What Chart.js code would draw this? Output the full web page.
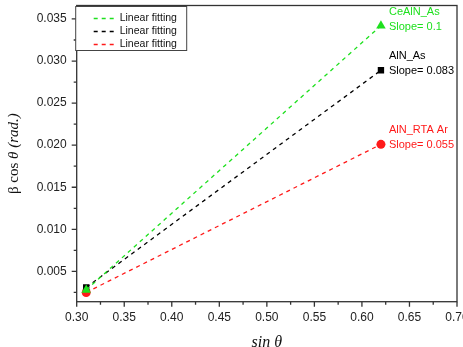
<!DOCTYPE html>
<html>
<head>
<meta charset="utf-8">
<script src="https://cdn.jsdelivr.net/npm/chart.js@4/dist/chart.umd.min.js"></script>
<style>
  html, body { margin: 0; padding: 0; background: #fff; }
</style>
</head>
<body>
<canvas id="chart" width="463" height="347"></canvas>
<script>
// data
const sinTheta = [0.31, 0.62];
const ceAlnAs = [0.0028, 0.0342];
const alnAs = [0.0031, 0.0289];
const alnRtaAr = [0.0025, 0.0201];
const seriesNames = ['CeAlN_As', 'AlN_As', 'AlN_RTA Ar'];
const slopes = ['0.1', '0.083', '0.055'];
const fitLabel = 'Linear fitting';
const xTicks = [0.30, 0.35, 0.40, 0.45, 0.50, 0.55, 0.60, 0.65, 0.70];
const yTicks = [0.005, 0.010, 0.015, 0.020, 0.025, 0.030, 0.035];

const green = '#1ee01e';
const black = '#000000';
const red = '#ff1a1a';
const axisColor = '#333333';

function pts(ys) {
  return sinTheta.map((x, i) => ({ x: x, y: ys[i] }));
}

function series(ys, color, style, radius) {
  return {
    label: fitLabel,
    data: pts(ys),
    showLine: true,
    borderColor: color,
    borderWidth: 1.3,
    borderDash: [4, 4],
    backgroundColor: color,
    pointStyle: style,
    pointRadius: radius,
    pointBorderWidth: 0,
    pointBackgroundColor: color
  };
}

function noPad(s) {
  s.paddingLeft = 0; s.paddingRight = 0; s.paddingTop = 0; s.paddingBottom = 0;
}

// frame, ticks, legend, annotations and axis titles
const extras = {
  id: 'extras',
  afterDatasetsDraw(chart) {
    const ctx = chart.ctx;
    const a = chart.chartArea;
    const xs = chart.scales.x, ys = chart.scales.y;
    ctx.save();
    ctx.strokeStyle = axisColor;
    ctx.lineWidth = 1.3;
    ctx.strokeRect(a.left, a.top, a.right - a.left, a.bottom - a.top);

    ctx.beginPath();
    for (let i = 0; i < xTicks.length; i++) {
      const px = xs.getPixelForValue(xTicks[i]);
      ctx.moveTo(px, a.bottom); ctx.lineTo(px, a.bottom + 5);
      if (i < xTicks.length - 1) {
        const mx = xs.getPixelForValue((xTicks[i] + xTicks[i + 1]) / 2);
        ctx.moveTo(mx, a.bottom); ctx.lineTo(mx, a.bottom + 3);
      }
    }
    for (let i = 0; i < yTicks.length; i++) {
      const py = ys.getPixelForValue(yTicks[i]);
      ctx.moveTo(a.left, py); ctx.lineTo(a.left - 5, py);
      const below = ys.getPixelForValue(yTicks[i] - 0.0025);
      if (below < a.bottom) { ctx.moveTo(a.left, below); ctx.lineTo(a.left - 3, below); }
    }
    const top = ys.getPixelForValue(yTicks[yTicks.length - 1] + 0.0025);
    if (top > a.top) { ctx.moveTo(a.left, top); ctx.lineTo(a.left - 3, top); }
    ctx.stroke();

    // legend box
    const lx = a.left - 1, ly = a.top + 1, lw = 111, lh = 44;
    ctx.fillStyle = '#fff';
    ctx.fillRect(lx, ly, lw, lh);
    ctx.lineWidth = 1;
    ctx.strokeStyle = '#444';
    ctx.strokeRect(lx, ly, lw, lh);
    ctx.font = '10.5px "Liberation Sans", Arial, sans-serif';
    ctx.textBaseline = 'middle';
    chart.data.datasets.forEach((ds, i) => {
      const y = ly + 12 + i * 13;
      ctx.strokeStyle = ds.borderColor;
      ctx.lineWidth = 1.3;
      ctx.setLineDash([4, 4]);
      ctx.beginPath();
      ctx.moveTo(lx + 18, y); ctx.lineTo(lx + 42, y);
      ctx.stroke();
      ctx.setLineDash([]);
      ctx.fillStyle = '#111';
      ctx.textAlign = 'left';
      ctx.fillText(ds.label, lx + 44, y);
    });

    // annotations next to the last points
    ctx.font = '11px "Liberation Sans", Arial, sans-serif';
    chart.data.datasets.forEach((ds, i) => {
      const el = chart.getDatasetMeta(i).data[ds.data.length - 1];
      ctx.fillStyle = ds.borderColor;
      ctx.textAlign = 'left';
      ctx.fillText(seriesNames[i], el.x + 8, el.y - 14);
      ctx.fillText('Slope= ' + slopes[i], el.x + 8, el.y + 1);
    });

    // axis titles
    ctx.fillStyle = '#111';
    ctx.textAlign = 'center';
    ctx.textBaseline = 'alphabetic';
    ctx.font = 'italic 16px "Liberation Serif", "Times New Roman", serif';
    ctx.fillText('sin \u03b8', (a.left + a.right) / 2, 347);

    ctx.textBaseline = 'middle';
    ctx.save();
    ctx.translate(14, (a.top + a.bottom) / 2);
    ctx.rotate(-Math.PI / 2);
    const parts = [
      ['\u03b2 cos ', '15px "Liberation Serif", serif'],
      ['\u03b8 (rad.)', 'italic 15px "Liberation Serif", serif']
    ];
    let total = 0;
    parts.forEach(p => { ctx.font = p[1]; total += ctx.measureText(p[0]).width; });
    let x0 = -total / 2;
    ctx.textAlign = 'left';
    parts.forEach(p => { ctx.font = p[1]; ctx.fillText(p[0], x0, 0); x0 += ctx.measureText(p[0]).width; });
    ctx.restore();
    ctx.restore();
  }
};

new Chart(document.getElementById('chart').getContext('2d'), {
  type: 'scatter',
  data: {
    datasets: [
      series(ceAlnAs, green, 'triangle', 5.5),
      series(alnAs, black, 'rect', 4.5),
      series(alnRtaAr, red, 'circle', 4.5)
    ]
  },
  options: {
    responsive: false,
    animation: false,
    layout: { padding: { top: 2, right: 6, left: 0, bottom: 0 } },
    plugins: { legend: { display: false }, tooltip: { enabled: false } },
    scales: {
      x: {
        type: 'linear', min: 0.3, max: 0.7,
        grid: { display: false, drawTicks: false },
        border: { display: false },
        afterBuildTicks(s) { s.ticks = xTicks.map(v => ({ value: v })); },
        afterFit(s) { s.height = 45.3; noPad(s); },
        ticks: {
          padding: 9, color: '#222', maxRotation: 0, autoSkip: false,
          font: { family: '"Liberation Sans", Arial, sans-serif', size: 12 },
          callback: v => v.toFixed(2)
        }
      },
      y: {
        type: 'linear', min: 0.0014, max: 0.0366,
        grid: { display: false, drawTicks: false },
        border: { display: false },
        afterBuildTicks(s) { s.ticks = yTicks.map(v => ({ value: v })); },
        afterFit(s) { s.width = 76.7; noPad(s); },
        ticks: {
          padding: 10, color: '#222', autoSkip: false,
          font: { family: '"Liberation Sans", Arial, sans-serif', size: 12 },
          callback: v => v.toFixed(3)
        }
      }
    }
  },
  plugins: [extras]
});
</script>
</body>
</html>
